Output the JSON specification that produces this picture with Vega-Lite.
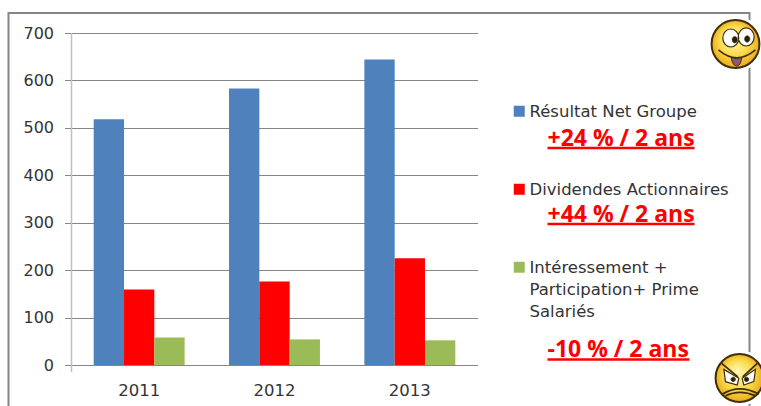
{
"$schema":"https://vega.github.io/schema/vega-lite/v6.json",
"width":406,"height":332,"autosize":"none",
"padding":{"left":71.5,"top":33,"right":283.5,"bottom":41},
"background":"white",
"config":{"view":{"stroke":null},"font":"DejaVu Sans"},
"resolve":{"scale":{"x":"independent","y":"independent","color":"independent"}},
"layer":[
{"data":{"values":[{"debut":1,"fin":2}]},
 "mark":{"type":"rect","fill":null,"stroke":"#868686","strokeWidth":2,"clip":false},
 "encoding":{
  "x":{"field":"debut","type":"quantitative","axis":null,"scale":{"domain":[1,2],"range":[-63,678],"nice":false,"zero":false}},
  "x2":{"field":"fin"},
  "y":{"field":"debut","type":"quantitative","axis":null,"scale":{"domain":[1,2],"range":[-20,385],"nice":false,"zero":false}},
  "y2":{"field":"fin"}}},
{"data":{"values":[
 {"annee":"2011","serie":"Résultat Net Groupe","valeur":518},
 {"annee":"2012","serie":"Résultat Net Groupe","valeur":583},
 {"annee":"2013","serie":"Résultat Net Groupe","valeur":644},
 {"annee":"2011","serie":"Dividendes Actionnaires","valeur":159},
 {"annee":"2012","serie":"Dividendes Actionnaires","valeur":176},
 {"annee":"2013","serie":"Dividendes Actionnaires","valeur":225},
 {"annee":"2011","serie":"Intéressement + Participation+ Prime Salariés","valeur":58},
 {"annee":"2012","serie":"Intéressement + Participation+ Prime Salariés","valeur":54},
 {"annee":"2013","serie":"Intéressement + Participation+ Prime Salariés","valeur":52}]},
 "mark":{"type":"bar"},
 "encoding":{
  "x":{"field":"annee","type":"nominal","title":null,
    "scale":{"paddingInner":0.328,"paddingOuter":0.164},
    "axis":{"labelAngle":0,"domain":false,"ticks":false,"labelFontSize":16.5,"labelColor":"#333333","labelPadding":17,"labelFont":"DejaVu Sans"}},
  "xOffset":{"field":"serie","type":"nominal","sort":["Résultat Net Groupe","Dividendes Actionnaires","Intéressement + Participation+ Prime Salariés"]},
  "y":{"field":"valeur","type":"quantitative","title":null,
    "scale":{"domain":[0,700],"nice":false},
    "axis":{"values":[0,100,200,300,400,500,600,700],"grid":true,"gridColor":"#868686","gridWidth":1,"domain":false,"tickColor":"#868686","tickSize":7,"labelFontSize":16,"labelColor":"#333333","labelPadding":11,"labelFont":"DejaVu Sans"}},
  "color":{"field":"serie","type":"nominal",
    "scale":{"domain":["Résultat Net Groupe","Dividendes Actionnaires","Intéressement + Participation+ Prime Salariés"],"range":["#4f81bd","#ff0000","#9bbb59"]},
    "legend":{"orient":"none","legendX":439.5,"legendY":70,"title":null,"symbolType":"square","symbolSize":121,"symbolStrokeWidth":0,"labelFontSize":16.5,"labelColor":"#333333","labelLimit":300,"labelOffset":2,"rowPadding":60,"labelBaseline":"top",
      "labelExpr":"datum.label == 'Intéressement + Participation+ Prime Salariés' ? ['Intéressement +','Participation+ Prime','Salariés'] : datum.label",
      "encode":{"labels":{"update":{"lineHeight":{"value":22},"dy":{"value":-7}}}}}}}},
{"data":{"values":[{"debut":1,"fin":2}]},
 "mark":{"type":"rule","color":"#bfbfbf","strokeWidth":1.5},
 "encoding":{
  "x":{"field":"debut","type":"quantitative","axis":null,"scale":{"domain":[1,2],"range":[0,1],"nice":false,"zero":false}},
  "y":{"field":"debut","type":"quantitative","axis":null,"scale":{"domain":[1,2],"range":[0,339],"nice":false,"zero":false}},
  "y2":{"field":"fin"}}},
{"data":{"name":"gains","values":[
 {"texte":"+24 % / 2 ans","rang":1,"debut":1,"fin":3},
 {"texte":"+44 % / 2 ans","rang":2,"debut":1,"fin":3},
 {"texte":"-10 % / 2 ans","rang":3,"debut":1,"fin":2}]},
 "mark":{"type":"text","align":"left","baseline":"alphabetic","font":"Open Sans","fontWeight":"bold","fontSize":23,"color":"#ff0000"},
 "encoding":{
  "text":{"field":"texte"},
  "x":{"field":"debut","type":"quantitative","axis":null,"scale":{"domain":[1,2,3],"range":[476,618,623],"nice":false,"zero":false}},
  "y":{"field":"rang","type":"quantitative","axis":null,"scale":{"domain":[1,2,3],"range":[113,188.5,323.5],"nice":false,"zero":false}}}},
{"data":{"name":"soulignes","values":[
 {"rang":1,"debut":1,"fin":3},
 {"rang":2,"debut":1,"fin":3},
 {"rang":3,"debut":1,"fin":2}]},
 "mark":{"type":"rule","color":"#ff0000","strokeWidth":2.5},
 "encoding":{
  "x":{"field":"debut","type":"quantitative","axis":null,"scale":{"domain":[1,2,3],"range":[476,618,623],"nice":false,"zero":false}},
  "x2":{"field":"fin"},
  "y":{"field":"rang","type":"quantitative","axis":null,"scale":{"domain":[1,2,3],"range":[115,191,326.5],"nice":false,"zero":false}}}},
{"data":{"values":[{"visage":1},{"visage":2}]},
 "mark":{"type":"point","shape":"circle","filled":true,"fill":"white","stroke":null,"size":3100,"clip":false,"opacity":1},
 "encoding":{
  "x":{"field":"visage","type":"quantitative","axis":null,"scale":{"domain":[1,2],"range":[664,668],"nice":false,"zero":false}},
  "y":{"field":"visage","type":"quantitative","axis":null,"scale":{"domain":[1,2],"range":[11,345],"nice":false,"zero":false}}}},
{"data":{"values":[{"visage":1},{"visage":2}]},
 "mark":{"type":"point","shape":"circle","filled":true,"opacity":1,"size":2290,"clip":false,"strokeWidth":2,"stroke":"#3f2f08",
  "fill":{"gradient":"radial","x1":0.45,"y1":0.35,"r1":0,"x2":0.5,"y2":0.5,"r2":0.55,"stops":[{"offset":0,"color":"#fff8b8"},{"offset":0.55,"color":"#fbdc4e"},{"offset":1,"color":"#e8a010"}]}},
 "encoding":{
  "x":{"field":"visage","type":"quantitative","axis":null,"scale":{"domain":[1,2],"range":[664,668],"nice":false,"zero":false}},
  "y":{"field":"visage","type":"quantitative","axis":null,"scale":{"domain":[1,2],"range":[11,345],"nice":false,"zero":false}}}},
{"data":{"values":[{"visage":1}]},
 "mark":{"type":"point","filled":true,"opacity":1,"fill":"white","stroke":"#3f2f08","strokeWidth":1.2,"size":11664,
  "shape":"M-0.235,-0.111 A0.148,0.167 0 1 1 0.061,-0.111 A0.148,0.167 0 1 1 -0.235,-0.111 Z M0.05,-0.13 A0.148,0.167 0 1 1 0.346,-0.13 A0.148,0.167 0 1 1 0.05,-0.13 Z"},
 "encoding":{
  "x":{"field":"visage","type":"quantitative","axis":null,"scale":{"domain":[1,2],"range":[664,668],"nice":false,"zero":false}},
  "y":{"field":"visage","type":"quantitative","axis":null,"scale":{"domain":[1,2],"range":[11,345],"nice":false,"zero":false}}}},
{"data":{"values":[{"visage":1}]},
 "mark":{"type":"point","filled":true,"opacity":1,"fill":"#2a2008","stroke":"#3f2f08","strokeWidth":0.5,"size":11664,
  "shape":"M-0.063,-0.08 A0.05,0.06 0 1 1 0.037,-0.08 A0.05,0.06 0 1 1 -0.063,-0.08 Z M0.167,-0.093 A0.05,0.06 0 1 1 0.267,-0.093 A0.05,0.06 0 1 1 0.167,-0.093 Z"},
 "encoding":{
  "x":{"field":"visage","type":"quantitative","axis":null,"scale":{"domain":[1,2],"range":[664,668],"nice":false,"zero":false}},
  "y":{"field":"visage","type":"quantitative","axis":null,"scale":{"domain":[1,2],"range":[11,345],"nice":false,"zero":false}}}},
{"data":{"values":[{"visage":1}]},
 "mark":{"type":"point","filled":true,"opacity":1,"fill":"#8a5a70","stroke":"#3f2f08","strokeWidth":1,"size":11664,
  "shape":"M-0.08,0.25 Q0.02,0.29 0.12,0.25 Q0.09,0.41 0.02,0.41 Q-0.05,0.41 -0.08,0.25 Z"},
 "encoding":{
  "x":{"field":"visage","type":"quantitative","axis":null,"scale":{"domain":[1,2],"range":[664,668],"nice":false,"zero":false}},
  "y":{"field":"visage","type":"quantitative","axis":null,"scale":{"domain":[1,2],"range":[11,345],"nice":false,"zero":false}}}},
{"data":{"values":[{"visage":1}]},
 "mark":{"type":"point","filled":false,"opacity":1,"stroke":"#3f2f08","strokeWidth":1.5,"size":11664,
  "shape":"M-0.315,0.11 Q0.02,0.4 0.37,0.11"},
 "encoding":{
  "x":{"field":"visage","type":"quantitative","axis":null,"scale":{"domain":[1,2],"range":[664,668],"nice":false,"zero":false}},
  "y":{"field":"visage","type":"quantitative","axis":null,"scale":{"domain":[1,2],"range":[11,345],"nice":false,"zero":false}}}},
{"data":{"values":[{"visage":2}]},
 "mark":{"type":"point","filled":true,"opacity":1,"fill":"white","stroke":"#3f2f08","strokeWidth":1.2,"size":11664,
  "shape":"M-0.29,-0.16 L-0.012,0.006 L-0.043,0.13 L-0.26,0.068 Z M0.296,-0.16 L0.05,0.006 L0.08,0.13 L0.265,0.068 Z"},
 "encoding":{
  "x":{"field":"visage","type":"quantitative","axis":null,"scale":{"domain":[1,2],"range":[664,668],"nice":false,"zero":false}},
  "y":{"field":"visage","type":"quantitative","axis":null,"scale":{"domain":[1,2],"range":[11,345],"nice":false,"zero":false}}}},
{"data":{"values":[{"visage":2}]},
 "mark":{"type":"point","filled":true,"opacity":1,"fill":"#2a2008","stroke":"#3f2f08","strokeWidth":1,"size":11664,
  "shape":"M-0.157,0.025 A0.04,0.04 0 1 1 -0.077,0.025 A0.04,0.04 0 1 1 -0.157,0.025 Z M0.09,0.025 A0.04,0.04 0 1 1 0.17,0.025 A0.04,0.04 0 1 1 0.09,0.025 Z"},
 "encoding":{
  "x":{"field":"visage","type":"quantitative","axis":null,"scale":{"domain":[1,2],"range":[664,668],"nice":false,"zero":false}},
  "y":{"field":"visage","type":"quantitative","axis":null,"scale":{"domain":[1,2],"range":[11,345],"nice":false,"zero":false}}}},
{"data":{"values":[{"visage":2}]},
 "mark":{"type":"point","filled":false,"opacity":1,"stroke":"#3f2f08","strokeWidth":1.8,"size":11664,
  "shape":"M-0.33,-0.27 L-0.03,-0.02 M0.33,-0.27 L0.06,-0.02 M-0.32,0.3 Q0,0.1 0.36,0.3 M-0.26,0.33 Q0,0.2 0.3,0.33"},
 "encoding":{
  "x":{"field":"visage","type":"quantitative","axis":null,"scale":{"domain":[1,2],"range":[664,668],"nice":false,"zero":false}},
  "y":{"field":"visage","type":"quantitative","axis":null,"scale":{"domain":[1,2],"range":[11,345],"nice":false,"zero":false}}}}
]
}
